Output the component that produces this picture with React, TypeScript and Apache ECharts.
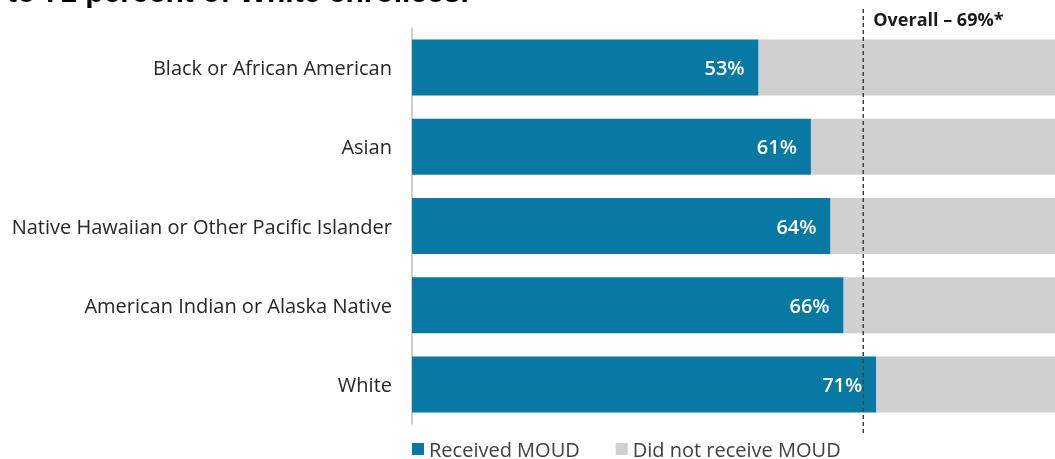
import React, { useEffect, useRef } from "react";
import * as echarts from "echarts";

const categories = [
  "Black or African American",
  "Asian",
  "Native Hawaiian or Other Pacific Islander",
  "American Indian or Alaska Native",
  "White",
];
const received = [53, 61, 64, 66, 71];
const notReceived = received.map((v) => 100 - v);
const overall = 69;
const overallLabel = "Overall – 69%*";
const titleFragment = "to 71 percent of White enrollees.";

const FONT = "'Open Sans', 'Noto Sans', sans-serif";

export default function App() {
  const ref = useRef<HTMLDivElement>(null);
  useEffect(() => {
    if (!ref.current) return;
    const chart = echarts.init(ref.current, undefined, { renderer: "svg" });
    chart.setOption({
      animation: false,
      textStyle: { fontFamily: FONT },
      grid: { left: 412, right: 0, top: 28, bottom: 35, containLabel: false },
      xAxis: {
        type: "value",
        min: 0,
        max: 100,
        show: false,
      },
      yAxis: {
        type: "category",
        data: categories,
        inverse: true,
        axisLine: { show: true, lineStyle: { color: "#bfbfbf", width: 1.5 } },
        axisTick: { show: false },
        axisLabel: { color: "#262626", fontSize: 20, margin: 20, fontFamily: FONT },
      },
      legend: {
        left: 412,
        top: 439,
        padding: 0,
        itemWidth: 12,
        itemHeight: 12,
        itemGap: 36,
        icon: "rect",
        textStyle: { color: "#404040", fontSize: 20, lineHeight: 20, fontFamily: FONT },
        data: ["Received MOUD", "Did not receive MOUD"],
      },
      series: [
        {
          name: "Received MOUD",
          type: "bar",
          stack: "a",
          barWidth: 56,
          data: received,
          itemStyle: { color: "#0779A2" },
          label: {
            show: true,
            position: "insideRight",
            distance: 14,
            color: "#ffffff",
            fontSize: 20,
            fontWeight: 600,
            fontFamily: FONT,
            formatter: "{c}%",
          },
        },
        {
          name: "Did not receive MOUD",
          type: "bar",
          stack: "a",
          barWidth: 56,
          data: notReceived,
          itemStyle: { color: "#D0D0D0" },
        },
      ],
    });
    const x = chart.convertToPixel({ xAxisIndex: 0 }, overall) as number;
    chart.setOption({
      graphic: [
        {
          type: "line",
          shape: { x1: x, y1: 9, x2: x, y2: 434 },
          style: { stroke: "#404040", lineWidth: 1.5, lineDash: [4, 3] },
          z: 100,
        },
        {
          type: "text",
          x: x + 10,
          y: 19,
          style: {
            text: overallLabel,
            fill: "#1a1a1a",
            font: `bold 18px ${FONT}`,
            textVerticalAlign: "middle",
          },
        },
        {
          type: "text",
          x: 7,
          y: -9,
          style: {
            text: titleFragment,
            fill: "#000000",
            font: `bold 30px Arial, 'Liberation Sans', sans-serif`,
            textVerticalAlign: "middle",
          },
        },
      ],
    });
    return () => chart.dispose();
  }, []);
  return (
    <div
      ref={ref}
      style={{ position: "fixed", left: 0, top: 0, width: 1066, height: 459 }}
    />
  );
}
